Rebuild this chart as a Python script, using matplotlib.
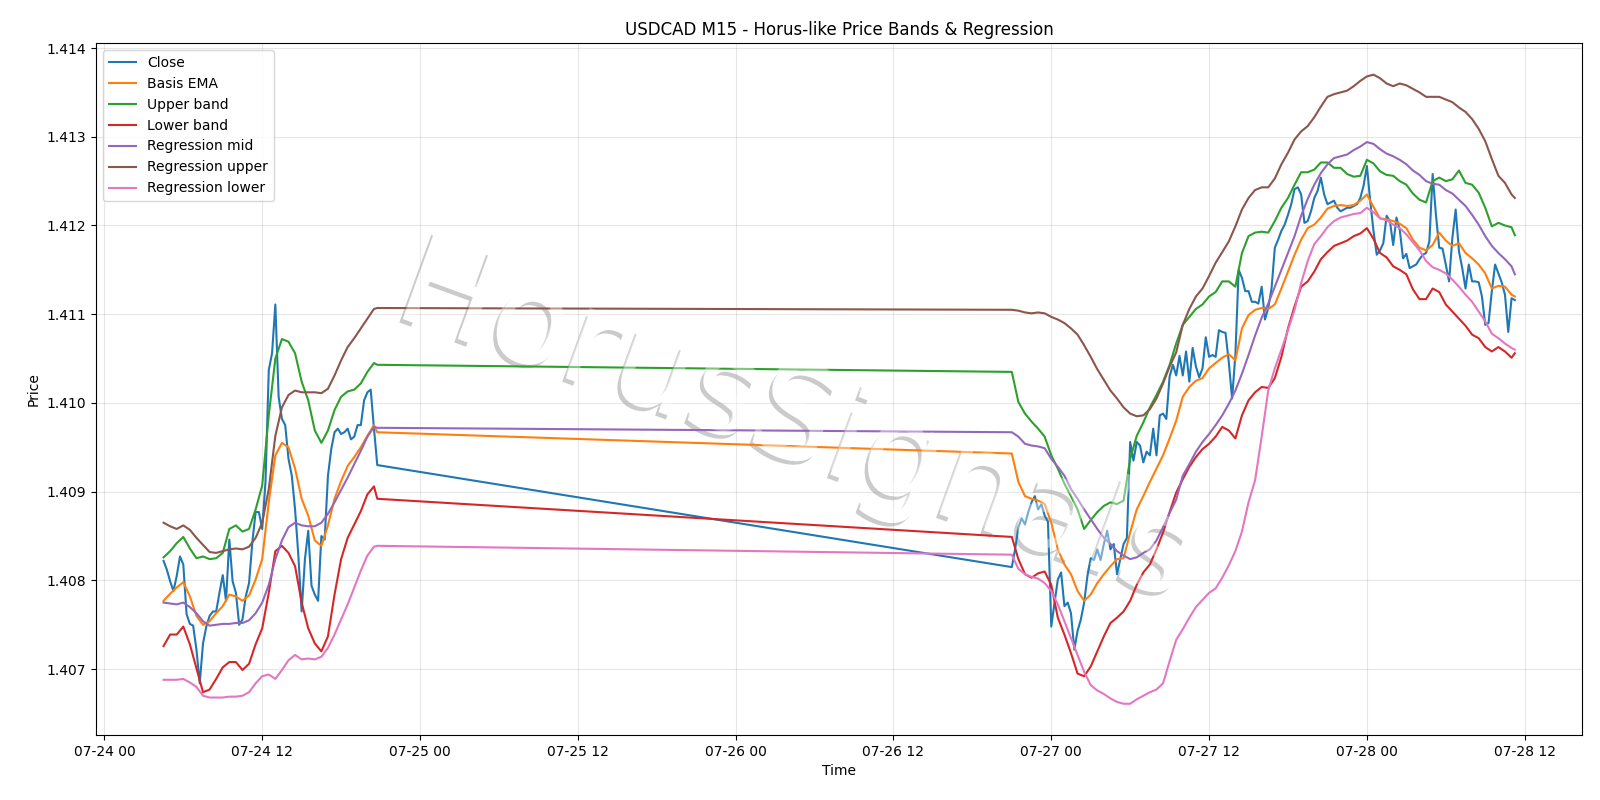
import numpy as np
import pandas as pd
import matplotlib
matplotlib.use("Agg")
import matplotlib.pyplot as plt
import matplotlib.dates as mdates
import matplotlib.patheffects as pe

# ---------------- data ----------------
seg1_start, seg1_end = "2020-07-24 04:30", "2020-07-24 20:45"
seg2_start, seg2_end = "2020-07-26 21:00", "2020-07-28 11:15"

close_seg1 = [1.40822, 1.40812, 1.40799, 1.40788, 1.40805, 1.40827, 1.40818, 1.40762, 1.40751, 1.40749,
              1.40722, 1.40684, 1.40729, 1.40748, 1.40760, 1.40765, 1.40765, 1.40786, 1.40806, 1.40777,
              1.40846, 1.40799, 1.40786, 1.40750, 1.40756, 1.40782, 1.40797, 1.40843, 1.40877, 1.40877,
              1.40858, 1.40911, 1.41037, 1.41056, 1.41111, 1.41007, 1.40982, 1.40975, 1.40937, 1.40918,
              1.40880, 1.40828, 1.40765, 1.40824, 1.40856, 1.40794, 1.40784, 1.40777, 1.40850, 1.40846,
              1.40918, 1.40948, 1.40967, 1.40971, 1.40965, 1.40967, 1.40971, 1.40959, 1.40962, 1.40975,
              1.40975, 1.41003, 1.41012, 1.41015, 1.40971, 1.40930]
close_seg2 = [1.40815, 1.40835, 1.40860, 1.40870, 1.40863, 1.40877, 1.40888, 1.40895, 1.40880, 1.40886,
              1.40873, 1.40866, 1.40748, 1.40775, 1.40801, 1.40809, 1.40771, 1.40775, 1.40763, 1.40722,
              1.40743, 1.40756, 1.40775, 1.40805, 1.40825, 1.40823, 1.40835, 1.40823, 1.40841, 1.40856,
              1.40835, 1.40841, 1.40807, 1.40824, 1.40841, 1.40848, 1.40956, 1.40935, 1.40956, 1.40952,
              1.40933, 1.40945, 1.40941, 1.40971, 1.40941, 1.40986, 1.40988, 1.40982, 1.41030, 1.41043,
              1.41031, 1.41053, 1.41031, 1.41058, 1.41024, 1.41062, 1.41041, 1.41029, 1.41039, 1.41074,
              1.41052, 1.41054, 1.41052, 1.41082, 1.41080, 1.41079, 1.41046, 1.41005, 1.41054, 1.41150,
              1.41141, 1.41126, 1.41126, 1.41114, 1.41114, 1.41112, 1.41131, 1.41094, 1.41107, 1.41129,
              1.41175, 1.41184, 1.41194, 1.41201, 1.41212, 1.41224, 1.41241, 1.41243, 1.41235, 1.41203,
              1.41205, 1.41216, 1.41231, 1.41239, 1.41254, 1.41235, 1.41224, 1.41226, 1.41228, 1.41220,
              1.41216, 1.41218, 1.41220, 1.41220, 1.41222, 1.41224, 1.41231, 1.41245, 1.41267, 1.41228,
              1.41194, 1.41167, 1.41172, 1.41180, 1.41211, 1.41205, 1.41178, 1.41209, 1.41195, 1.41163,
              1.41168, 1.41152, 1.41154, 1.41156, 1.41162, 1.41167, 1.41169, 1.41182, 1.41258, 1.41212,
              1.41175, 1.41174, 1.41156, 1.41137, 1.41186, 1.41218, 1.41171, 1.41152, 1.41129, 1.41156,
              1.41137, 1.41137, 1.41136, 1.41120, 1.41088, 1.41090, 1.41126, 1.41156, 1.41146, 1.41136,
              1.41122, 1.41080, 1.41118, 1.41116]

# indicator lines, sampled every 30 minutes (plus the last bar of each segment)
basis_seg1 = [1.40777, 1.40785, 1.40792, 1.40798, 1.40782, 1.40760, 1.40750, 1.40754, 1.40763, 1.40771,
              1.40784, 1.40782, 1.40777, 1.40783, 1.40801, 1.40824, 1.40888, 1.40941, 1.40955, 1.40950,
              1.40926, 1.40892, 1.40873, 1.40845, 1.40839, 1.40862, 1.40892, 1.40912, 1.40929, 1.40939,
              1.40950, 1.40963, 1.40975, 1.40967]
basis_seg2 = [1.40943, 1.40911, 1.40895, 1.40892, 1.40890, 1.40886, 1.40865, 1.40835, 1.40818, 1.40807,
              1.40788, 1.40777, 1.40784, 1.40797, 1.40807, 1.40816, 1.40824, 1.40825, 1.40854, 1.40880,
              1.40895, 1.40911, 1.40926, 1.40941, 1.40960, 1.40980,
              1.41007, 1.41018, 1.41025, 1.41028, 1.41039, 1.41045, 1.41051, 1.41055, 1.41048, 1.41084,
              1.41099, 1.41105, 1.41107, 1.41106, 1.41111, 1.41129, 1.41148, 1.41167, 1.41184, 1.41197,
              1.41201, 1.41209, 1.41219, 1.41222, 1.41223, 1.41222, 1.41223,
              1.41228, 1.41235, 1.41221, 1.41208, 1.41207, 1.41205, 1.41202, 1.41197, 1.41184, 1.41175,
              1.41172, 1.41178, 1.41192, 1.41183, 1.41177, 1.41180, 1.41169, 1.41163, 1.41156, 1.41146,
              1.41129, 1.41132, 1.41131, 1.41122, 1.41120]

upper_seg1 = [1.40826, 1.40833, 1.40842, 1.40849, 1.40836, 1.40825, 1.40827, 1.40824, 1.40825, 1.40831,
              1.40858, 1.40862, 1.40855, 1.40858, 1.40880, 1.40907, 1.40986, 1.41050, 1.41072, 1.41069,
              1.41056, 1.41024, 1.41003, 1.40969, 1.40955, 1.40969, 1.40992, 1.41007, 1.41013, 1.41015,
              1.41022, 1.41035, 1.41045, 1.41043]
upper_seg2 = [1.41035, 1.41001, 1.40988, 1.40979, 1.40971, 1.40962, 1.40941, 1.40926, 1.40909, 1.40895,
              1.40880, 1.40858, 1.40868, 1.40877, 1.40884, 1.40888, 1.40886, 1.40890, 1.40937, 1.40963,
              1.40978, 1.40995, 1.41009, 1.41024, 1.41043, 1.41067,
              1.41088, 1.41097, 1.41106, 1.41111, 1.41120, 1.41125, 1.41137, 1.41137, 1.41131, 1.41169,
              1.41188, 1.41192, 1.41193, 1.41192, 1.41205, 1.41220, 1.41231, 1.41246, 1.41260, 1.41260,
              1.41263, 1.41271, 1.41271, 1.41265, 1.41265, 1.41258, 1.41255,
              1.41256, 1.41274, 1.41270, 1.41261, 1.41257, 1.41256, 1.41250, 1.41246, 1.41236, 1.41229,
              1.41226, 1.41250, 1.41254, 1.41250, 1.41252, 1.41262, 1.41248, 1.41246, 1.41237, 1.41220,
              1.41199, 1.41203, 1.41200, 1.41198, 1.41189]

lower_seg1 = [1.40726, 1.40739, 1.40739, 1.40748, 1.40728, 1.40701, 1.40674, 1.40677, 1.40689, 1.40702,
              1.40708, 1.40708, 1.40699, 1.40706, 1.40728, 1.40746, 1.40786, 1.40833, 1.40839, 1.40831,
              1.40816, 1.40775, 1.40746, 1.40729, 1.40720, 1.40737, 1.40784, 1.40824, 1.40848, 1.40863,
              1.40878, 1.40897, 1.40906, 1.40892]
lower_seg2 = [1.40849, 1.40824, 1.40807, 1.40803, 1.40808, 1.40810, 1.40795, 1.40758, 1.40739, 1.40718,
              1.40695, 1.40692, 1.40703, 1.40720, 1.40737, 1.40752, 1.40758, 1.40765, 1.40777, 1.40795,
              1.40809, 1.40818, 1.40835, 1.40854, 1.40877, 1.40899,
              1.40914, 1.40928, 1.40939, 1.40948, 1.40954, 1.40962, 1.40973, 1.40969, 1.40960, 1.40986,
              1.41003, 1.41012, 1.41018, 1.41017, 1.41028, 1.41052, 1.41084, 1.41109, 1.41131, 1.41137,
              1.41148, 1.41162, 1.41170, 1.41177, 1.41180, 1.41183, 1.41188,
              1.41191, 1.41197, 1.41185, 1.41169, 1.41164, 1.41154, 1.41150, 1.41145, 1.41128, 1.41117,
              1.41117, 1.41129, 1.41125, 1.41111, 1.41103, 1.41095, 1.41087, 1.41077, 1.41073, 1.41063,
              1.41058, 1.41063, 1.41058, 1.41051, 1.41056]

reg_mid_seg1 = [1.40775, 1.40774, 1.40773, 1.40775, 1.40770, 1.40763, 1.40754, 1.40749, 1.40750, 1.40751,
                1.40751, 1.40752, 1.40752, 1.40755, 1.40763, 1.40775, 1.40795, 1.40824, 1.40845, 1.40860,
                1.40865, 1.40862, 1.40861, 1.40861, 1.40865, 1.40875, 1.40888, 1.40902, 1.40916, 1.40931,
                1.40946, 1.40962, 1.40973, 1.40972]
reg_mid_seg2 = [1.40967, 1.40962, 1.40954, 1.40952, 1.40951, 1.40949, 1.40937, 1.40928, 1.40918, 1.40903,
                1.40892, 1.40880, 1.40869, 1.40858, 1.40848, 1.40841, 1.40833, 1.40828, 1.40824, 1.40826,
                1.40831, 1.40835, 1.40845, 1.40860, 1.40876, 1.40891,
                1.40918, 1.40931, 1.40945, 1.40956, 1.40965, 1.40975, 1.40986, 1.40999, 1.41014, 1.41033,
                1.41054, 1.41076, 1.41096, 1.41112, 1.41131, 1.41150, 1.41169, 1.41188, 1.41211, 1.41230,
                1.41246, 1.41259, 1.41269, 1.41276, 1.41278, 1.41280, 1.41285,
                1.41289, 1.41294, 1.41292, 1.41286, 1.41281, 1.41278, 1.41274, 1.41269, 1.41262, 1.41257,
                1.41250, 1.41247, 1.41246, 1.41240, 1.41236, 1.41229, 1.41222, 1.41212, 1.41201, 1.41188,
                1.41177, 1.41169, 1.41162, 1.41154, 1.41145]

reg_up_seg1 = [1.40865, 1.40861, 1.40858, 1.40862, 1.40857, 1.40848, 1.40840, 1.40832, 1.40831, 1.40833,
               1.40835, 1.40836, 1.40835, 1.40838, 1.40848, 1.40865, 1.40903, 1.40963, 1.40995, 1.41009,
               1.41014, 1.41012, 1.41012, 1.41012, 1.41011, 1.41016, 1.41031, 1.41048, 1.41063, 1.41073,
               1.41084, 1.41095, 1.41106, 1.41107]
reg_up_seg2 = [1.41105, 1.41104, 1.41102, 1.41101, 1.41102, 1.41101, 1.41097, 1.41094, 1.41090, 1.41084,
               1.41077, 1.41065, 1.41052, 1.41038, 1.41026, 1.41014, 1.41005, 1.40995, 1.40988, 1.40985,
               1.40986, 1.40993, 1.41005, 1.41022, 1.41041, 1.41057,
               1.41088, 1.41106, 1.41120, 1.41129, 1.41143, 1.41158, 1.41170, 1.41182, 1.41199, 1.41218,
               1.41231, 1.41240, 1.41243, 1.41243, 1.41253, 1.41269, 1.41282, 1.41297, 1.41306, 1.41312,
               1.41322, 1.41334, 1.41345, 1.41348, 1.41350, 1.41352, 1.41357,
               1.41363, 1.41368, 1.41370, 1.41366, 1.41360, 1.41357, 1.41360, 1.41358, 1.41354, 1.41350,
               1.41345, 1.41345, 1.41345, 1.41342, 1.41339, 1.41333, 1.41328, 1.41320, 1.41309, 1.41295,
               1.41275, 1.41256, 1.41248, 1.41235, 1.41231]

reg_lo_seg1 = [1.40688, 1.40688, 1.40688, 1.40689, 1.40685, 1.40680, 1.40670, 1.40668, 1.40668, 1.40668,
               1.40669, 1.40669, 1.40670, 1.40674, 1.40684, 1.40692, 1.40694, 1.40689, 1.40699, 1.40710,
               1.40716, 1.40711, 1.40712, 1.40711, 1.40714, 1.40724, 1.40739, 1.40756, 1.40773, 1.40792,
               1.40811, 1.40828, 1.40838, 1.40839]
reg_lo_seg2 = [1.40829, 1.40813, 1.40807, 1.40804, 1.40802, 1.40797, 1.40788, 1.40773, 1.40754, 1.40735,
               1.40716, 1.40697, 1.40682, 1.40676, 1.40672, 1.40667, 1.40663, 1.40661, 1.40661, 1.40666,
               1.40670, 1.40674, 1.40677, 1.40684, 1.40709, 1.40733,
               1.40745, 1.40758, 1.40770, 1.40778, 1.40786, 1.40791, 1.40803, 1.40817, 1.40833, 1.40855,
               1.40888, 1.40913, 1.40962, 1.41014, 1.41039, 1.41060, 1.41082, 1.41105, 1.41135, 1.41160,
               1.41179, 1.41188, 1.41198, 1.41205, 1.41209, 1.41211, 1.41213,
               1.41214, 1.41220, 1.41215, 1.41208, 1.41206, 1.41201, 1.41197, 1.41190, 1.41181, 1.41172,
               1.41160, 1.41153, 1.41150, 1.41146, 1.41139, 1.41131, 1.41122, 1.41114, 1.41103, 1.41092,
               1.41078, 1.41073, 1.41067, 1.41062, 1.41060]

title = "USDCAD M15 - Horus-like Price Bands & Regression"
watermark = "HorusSignals"

# ---------------- time axes ----------------
t1 = pd.date_range(seg1_start, seg1_end, freq="15min")
t2 = pd.date_range(seg2_start, seg2_end, freq="15min")
times = t1.append(t2)


def every_half_hour(t):
    idx = list(range(0, len(t), 2))
    if idx[-1] != len(t) - 1:
        idx.append(len(t) - 1)
    return t[idx]


times_s = every_half_hour(t1).append(every_half_hour(t2))

close = close_seg1 + close_seg2
series = [
    ("Basis EMA", basis_seg1 + basis_seg2),
    ("Upper band", upper_seg1 + upper_seg2),
    ("Lower band", lower_seg1 + lower_seg2),
    ("Regression mid", reg_mid_seg1 + reg_mid_seg2),
    ("Regression upper", reg_up_seg1 + reg_up_seg2),
    ("Regression lower", reg_lo_seg1 + reg_lo_seg2),
]

# ---------------- plot ----------------
fig, ax = plt.subplots(figsize=(16, 8), dpi=100)
ax.plot(times, close, label="Close", lw=1.5)
for name, vals in series:
    ax.plot(times_s, vals, label=name, lw=1.5)

ax.set_title(title)
ax.set_xlabel("Time")
ax.set_ylabel("Price")
ax.grid(True, alpha=0.3)
ax.legend(loc="upper left")
ax.xaxis.set_major_locator(mdates.HourLocator(byhour=[0, 12]))
ax.xaxis.set_major_formatter(mdates.DateFormatter("%m-%d %H"))

# watermark: white embossed letters with a soft grey shadow edge
wm_kw = dict(transform=ax.transAxes, fontsize=92, rotation=-20, ha="center", va="center")
ax.text(0.47, 0.45, watermark, color="white", zorder=1,
        path_effects=[pe.SimplePatchShadow(offset=(-2.5, -2.5), shadow_rgbFace="#8c8c8c", alpha=0.45),
                      pe.Normal()], **wm_kw)
ax.text(0.47, 0.45, watermark, color="white", alpha=0.4, zorder=5, **wm_kw)

fig.subplots_adjust(left=0.06, right=0.989, top=0.946, bottom=0.081)
fig.savefig("out.png", dpi=100)
